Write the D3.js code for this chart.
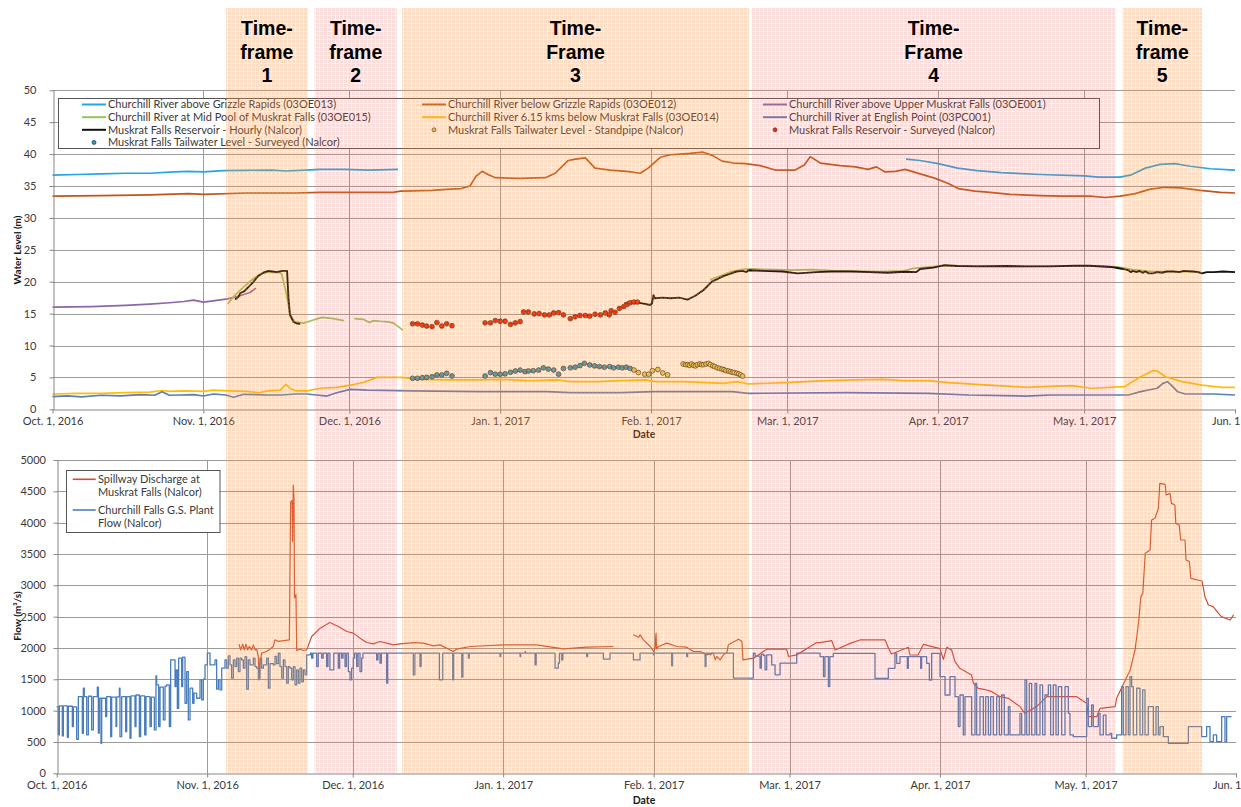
<!DOCTYPE html>
<html>
<head>
<meta charset="utf-8">
<title>Churchill River water levels and flows, October 2016 to June 2017</title>
<script src="https://cdn.jsdelivr.net/npm/d3@7/dist/d3.min.js"></script>
<style>
  html, body { margin: 0; padding: 0; background: #fff; }
  svg { display: block; }
  text { font-family: Lato, "Open Sans", Arial, sans-serif; }
</style>
</head>
<body>
<svg id="chart" width="1241" height="807"></svg>
<script>
// ---------- time base: every series position is a day count from Oct. 1, 2016 ----------
const DAY = 864e5;
const T0 = Date.UTC(2016, 9, 1);
const T1 = Date.UTC(2017, 5, 1);
const at = d => new Date(T0 + d * DAY);

const monthDates = [
  Date.UTC(2016, 9, 1), Date.UTC(2016, 10, 1), Date.UTC(2016, 11, 1), Date.UTC(2017, 0, 1),
  Date.UTC(2017, 1, 1), Date.UTC(2017, 2, 1), Date.UTC(2017, 3, 1), Date.UTC(2017, 4, 1), Date.UTC(2017, 5, 1)
].map(t => new Date(t));
const monthLabels = ["Oct. 1, 2016", "Nov. 1, 2016", "Dec. 1, 2016", "Jan. 1, 2017", "Feb. 1, 2017",
  "Mar. 1, 2017", "Apr. 1, 2017", "May. 1, 2017", "Jun. 1"];
const levelTicks = [0, 5, 10, 15, 20, 25, 30, 35, 40, 45, 50];
const flowTicks = [0, 500, 1000, 1500, 2000, 2500, 3000, 3500, 4000, 4500, 5000];

// ---------- operating time-frames ----------
const frameStart = [35.63, 53.84, 71.8, 143.74, 219.9];
const frameEnd = [52.49, 70.78, 143.14, 218.4, 236.2];
const frameWord = ["frame", "frame", "Frame", "Frame", "frame"];
const frameNumber = ["1", "2", "3", "4", "5"];
const frameTone = ["orange", "pink", "orange", "pink", "orange"];

// ---------- water levels (m) : [day, level]; null marks a gap in the record ----------
const aboveGrizzle = [[0,36.7],[5,36.8],[10,36.9],[15,37.0],[20,37.0],[25,37.2],[28,37.3],[31,37.2],[35,37.4],[40,37.45],[45,37.5],[48,37.35],[52,37.5],[55,37.6],[60,37.6],[65,37.5],[71,37.6],[72,null],
  [175.4,39.2],[178.3,39.0],[182,38.5],[186,37.8],[190,37.4],[195,37.1],[203,36.8],[212,36.6],[215,36.4],[219.4,36.4],[221.5,36.7],[224.6,37.8],[227.6,38.4],[230.7,38.5],[233.8,38.1],[237.9,37.7],[243,37.5]];

const belowGrizzle = [[0,33.4],[10,33.5],[20,33.6],[28,33.8],[31,33.7],[40,33.9],[50,33.9],[55,34.0],[65,34.0],[70,34.0],[71.5,34.2],[78,34.3],[81.7,34.5],[84,34.6],[85.8,35.0],[87,36.5],[88.3,37.3],[89.5,36.8],[91,36.3],[96,36.2],[101.3,36.3],[103.3,37.0],[106,39.0],[107.5,39.2],[109.5,39.4],[111.5,37.8],[114.6,37.5],[118,37.3],[120.8,37.0],[122.4,37.8],[124.9,39.5],[127,39.9],[129,40.0],[131,40.1],[133.7,40.3],[135.6,39.8],[137.6,38.9],[140,38.6],[142.4,38.5],[145.4,38.2],[148.5,37.5],[152.6,37.5],[154.5,38.3],[155.7,39.6],[157.8,38.6],[161.9,38.2],[165,38.0],[167.6,37.6],[169.3,38.0],[171.1,37.2],[173.2,37.3],[175.2,37.6],[178.3,36.9],[181.4,36.2],[184.1,35.4],[186.1,34.6],[189.6,34.2],[192.7,34.0],[196.8,33.7],[203,33.5],[207.1,33.4],[213.3,33.4],[216.3,33.2],[219.4,33.4],[222.5,33.8],[225.6,34.5],[228.7,34.8],[231.8,34.7],[235.9,34.3],[240,34.0],[243,33.9]];

const upperMuskrat = [[0,16.0],[8,16.1],[15,16.3],[20,16.5],[24,16.7],[27,16.9],[29,17.1],[31,16.8],[33,17.0],[36,17.3],[38.5,17.8],[40.6,18.3],[41.8,19.0]];

const midPool = [[36.0,16.5],[37.5,17.9],[39.3,19.2],[41.3,20.5],[42.7,21.2],[44.1,21.5],[46.8,21.4],[47.1,21.2],[48.2,17.6],[48.8,14.8],[49.9,13.7],[51.6,13.5],[53.6,14.0],[55.4,14.4],[57.7,14.2],[59.9,13.9],[61,null],
  [62.0,14.2],[63.9,14.1],[65.1,13.6],[66.0,13.9],[67.3,13.8],[69.0,13.7],[70.1,13.5],[72.0,12.4],[73,null],
  [135.1,20.3],[137.6,21.0],[139.5,21.6],[141.8,21.95],[144,22.0],[148,21.9],[152,21.8],[156,21.9],[160,21.75],[165,21.65],[170,21.6],[175,21.7],[177,22.1],[182,22.45],[190,22.45],[200,22.4],[210,22.5],[216,22.4],[219,22.3],[222,21.9],[226,21.6],[230,21.6],[236,21.5]];

const reservoirHourly = [[37.5,17.2],[38.2,17.6],[38.6,18.2],[39.4,18.5],[40.3,19.2],[41.2,19.9],[42.3,20.9],[43.3,21.4],[44.4,21.7],[45.2,21.6],[46.1,21.5],[47.2,21.7],[48.2,21.7],[48.5,17.4],[48.8,14.8],[49.5,13.7],[50.2,13.45],[50.9,13.4],[51,null],
  [117.5,16.6],[119.2,16.9],[121.2,16.6],[122.8,16.35],[123.2,16.6],[123.5,17.9],[123.8,17.4],[125.4,17.5],[127,17.4],[128.8,17.5],[130.5,17.2],[132.1,17.8],[133.8,18.7],[135.5,20.0],[138,20.9],[140.6,21.6],[141.8,21.7],[142.6,21.5],[143,21.8],[146,21.7],[150,21.6],[153.1,21.3],[157,21.5],[160,21.6],[164,21.6],[168,21.5],[171.6,21.4],[175,21.55],[177.5,21.5],[178.3,22.0],[181,22.2],[183.3,22.6],[186,22.45],[190,22.4],[196,22.45],[200,22.4],[205,22.4],[210,22.5],[213,22.5],[217.7,22.3],[220,22.0],[221.1,21.8],[221.6,21.5],[222,21.7],[222.8,21.5],[223.3,21.7],[224,21.4],[224.6,21.6],[225.3,21.3],[226.1,21.3],[227,21.5],[228,21.4],[229,21.6],[230.3,21.6],[231.5,21.5],[232.5,21.7],[234.5,21.6],[235.4,21.5],[236.2,21.3],[237.2,21.5],[238.7,21.5],[240.5,21.6],[243,21.5]];

const belowMuskrat = [[0,2.4],[5,2.5],[10,2.5],[15,2.6],[20,2.7],[22.5,2.95],[24,2.8],[27,2.9],[31,2.8],[33,3.0],[36,2.9],[40,2.8],[42.3,2.6],[44.3,2.9],[46.8,3.0],[48,3.9],[48.8,3.3],[49.9,2.9],[52.3,2.9],[55,3.3],[58.4,3.45],[61.2,3.8],[63.9,4.2],[66.7,5.0],[71.5,5.0],[75.6,4.7],[81.1,4.6],[87.9,4.6],[92,4.7],[98.2,4.5],[103.7,4.6],[106.4,4.35],[111.9,4.35],[116.7,4.5],[121.9,4.6],[123.8,4.35],[129.6,4.35],[138,4.07],[140.6,4.33],[143,3.97],[150.6,4.17],[159,4.5],[164.9,4.6],[170.7,4.7],[174.9,4.5],[180,4.5],[184.1,4.17],[192.5,3.8],[200.1,3.45],[203.5,3.55],[209.4,3.7],[213.5,3.3],[220.3,3.55],[223.6,5.1],[226.1,6.05],[227,6.0],[228.7,5.1],[232.1,4.33],[236.2,3.8],[240.4,3.45],[243,3.45]];

const englishPoint = [[0,2.0],[3,2.1],[6,1.95],[10,2.2],[14,2.1],[18,2.3],[21,2.2],[22.5,2.75],[24,2.2],[26.2,2.24],[29,2.3],[31,2.08],[33.1,2.4],[35.6,2.24],[37.2,1.88],[39.3,2.35],[44.1,2.24],[46.8,2.24],[50.2,2.4],[52.3,2.4],[54.3,2.24],[56.4,2.08],[58.4,2.6],[61.2,3.13],[64.6,3.0],[74.2,2.9],[87.9,2.76],[101.6,2.76],[106.4,2.6],[116.7,2.6],[123.8,2.76],[139.7,2.76],[143,2.5],[163.2,2.6],[180,2.5],[188.3,2.24],[200.1,2.08],[205.1,2.24],[213.5,2.24],[221.1,2.24],[223.6,2.76],[227,3.3],[228.2,4.07],[229.1,4.33],[229.9,3.8],[231.2,2.76],[232.8,2.4],[238.7,2.4],[243,2.24]];

const reservoirSurveyed = [[74.0,13.4],[75.0,13.4],[76.0,13.2],[76.9,13.05],[78.0,12.95],[79.0,13.6],[80.0,13.05],[81.0,13.4],[82.1,13.1],
  [88.9,13.55],[90.0,13.55],[91.0,13.9],[92.0,13.8],[93.0,13.8],[94.1,13.3],[95.1,13.55],[96.1,13.75],
  [96.8,15.25],[97.8,15.25],[99.0,14.95],[100.0,15.0],[101.1,14.8],[102.1,14.8],[103.0,15.1],[104.0,15.15],[105.0,14.8],[106.4,14.2],[107.4,14.5],[108.4,14.7],[109.5,14.7],[110.4,14.6],[111.5,14.9],[112.6,14.8],[113.6,15.1],[114.4,14.8],[114.8,15.45],[115.6,15.2],[116.5,15.8],[117.4,16.1],[118.1,16.45],[118.7,16.7],[119.5,16.8],[120.2,16.8]];

const tailwaterSurveyed = [[74.0,4.86],[75.0,4.86],[76.0,4.95],[76.9,5.0],[78.0,5.1],[79.0,5.38],[80.0,5.38],[81.0,5.64],[82.1,5.22],
  [88.9,5.22],[90.0,5.74],[91.0,5.5],[92.0,5.5],[93.0,5.55],[94.1,5.8],[95.1,6.0],[96.1,6.15],[97.1,5.9],[97.8,6.0],[98.8,6.05],[99.9,6.15],[100.9,6.5],[101.9,6.3],[103.0,6.15],[104.0,5.5],[105.0,6.4],[106.4,6.5],[107.4,6.6],[108.4,6.85],[109.3,7.2],[110.4,6.95],[111.4,6.8],[112.4,6.7],[113.4,6.6],[114.5,6.7],[115.3,6.5],[116.3,6.6],[117.1,6.5],[117.9,6.6],[118.7,6.4]];

const tailwaterStandpipe = [[119.5,6.15],[120.4,5.75],[121.7,5.5],[122.5,5.5],[123.3,6.05],[124.4,6.25],[125.4,5.7],[126.4,5.4],
  [129.6,7.1],[130.1,7.0],[130.5,7.0],[130.9,6.9],[131.3,7.1],[131.7,6.9],[132.1,6.8],[132.5,7.0],[133.0,7.1],[133.4,7.0],[133.8,7.0],[134.3,7.1],[134.8,7.2],[135.2,7.0],[135.7,6.8],[136.1,6.7],[136.6,6.5],[137.1,6.4],[137.6,6.3],[138.0,6.2],[138.4,6.05],[138.9,6.0],[139.3,5.9],[139.7,5.8],[140.1,5.75],[140.6,5.65],[141.0,5.55],[141.4,5.4],[141.8,5.2]];

// ---------- flows (m³/s) : [day, flow] ----------
const plantFlow = [[0,1065],[0.34,612],[0.54,1075],[1.16,596],[1.37,1075],[2.19,575],[2.4,1070],[3.22,745],[3.43,1060],[4.11,543],[4.46,1225],[5.28,639],[5.49,1358],[5.69,1225],[6.18,612],[6.52,1230],[7.2,692],[7.55,1225],[8.37,1374],[8.58,640],[8.78,1200],[9.13,479],[9.27,1198],[10.09,905],[10.3,1225],[11.12,585],[11.33,1215],[12.22,745],[12.36,1220],[12.91,1358],[13.04,585],[13.39,1225],[14.21,665],[14.42,1225],[15.1,559],[15.31,1235],[16.13,745],[16.34,1250],[17.03,585],[17.3,1235],[18.13,612],[18.4,1225],[19.22,745],[19.5,1215],[20.12,692],[20.46,1555],[20.6,1411],[21.01,745],[21.29,1374],[21.97,852],[22.32,1390],[22.66,1411],[23.21,745],[23.48,1810],[24.38,1385],[24.58,1650],[24.86,1038],[25.13,1837],[25.75,1385],[25.96,1853],[26.44,1118],[26.78,1624],[27.12,852],[27.47,1358],[28.02,1118],[28.29,1278],[28.84,1198],[29.53,1491],[29.87,1171],[30.21,1501],[30.56,1730],[31.04,1917],[31.59,1730],[32.62,1810],[32.96,1342],[33.31,1491],[33.65,1331],[34.0,1677],[34.68,1810],[35.02,1677],[35.37,1874],[35.71,1730],[36.05,1518],[36.4,1810],[36.74,1704],[37.08,1837],[37.43,1624],[37.77,1837],[38.11,1810],[38.46,1677],[38.8,1860],[39.14,1342],[39.49,1810],[39.83,1730],[40.52,1837],[40.86,1704],[41.2,1677],[41.55,1518],[41.89,1837],[42.23,1677],[42.58,1730],[43.26,1837],[43.61,1358],[43.95,1750],[44.64,1730],[44.98,1864],[45.32,1750],[45.67,1917],[46.01,1704],[46.36,1518],[46.7,1810],[47.04,1704],[47.39,1438],[47.73,1704],[48.07,1677],[48.42,1491],[48.76,1704],[49.1,1411],[49.45,1650],[49.79,1438],[50.13,1677],[50.48,1460],[50.82,1650],[51.16,1571],[51.51,1890],
  [52.3,1917],[52.54,1837],[52.8,1917],[53.57,1704],[53.9,1917],[54.6,1837],[54.9,1917],[55.63,1704],[55.9,1917],[56.3,1650],[57.1,1917],[58.03,1677],[58.3,1917],[58.72,1837],[59.0,1917],[59.41,1704],[59.7,1917],[60.09,1624],[60.44,1491],[60.78,1677],[61.12,1837],[61.4,1917],[61.81,1704],[62.1,1917],[62.5,1624],[62.84,1837],[63.1,1917],[65.93,1810],[66.2,1917],[66.62,1757],[66.9,1917],[67.99,1438],[68.2,1917],[73.49,1571],[73.8,1917],[74.86,1704],[75.1,1917],
  [78.85,1491],[79.54,1917],[81.6,1491],[81.8,1917],[83.46,1534],[83.7,1917],[84.83,1837],[85.0,1917],[91.35,1864],[91.5,1917],[95.48,1864],[95.6,1917],[96.5,1940],[96.6,1917],[98.57,1730],[98.8,1917],[102.69,1677],[103.37,1760],[103.6,1917],[104.06,1810],[104.3,1917],[109.21,1864],[109.4,1917],[112.65,1821],[114.02,1917],[118.83,1810],[120.2,1917],[122.95,1890],[123.1,1917],[126.73,1715],[126.9,1917],[129.82,1864],[130.0,1917],[133.6,1704],[133.8,1917],[134.63,1890],[134.8,1917],[139.09,1917],[139.44,1518],[143.55,1917],[143.9,1870],[144.93,1677],[145.2,1900],[145.62,1880],[145.96,1650],[146.3,1890],[147.33,1730],[148.02,1571],[148.71,1571],[149.05,1757],[152.14,1757],[152.48,1917],[157.3,1862],[158.0,1543],[158.3,1862],[159.01,1383],[159.3,1862],
  [160.03,1915],[168.27,1915],[168.61,1516],[171.36,1675],[172.05,1675],[172.73,1915],[173.08,1755],[173.76,1862],[175.28,1675],[175.48,1862],[178.02,1675],[178.23,1862],[179.26,1755],[179.81,1489],[180.29,1915],[182.01,1543],[183.04,1250],[184.07,1543],[185.1,1223],[185.78,745],[186.13,1250],[186.81,612],[187.16,1223],[188.53,612],[189.22,1436],[189.56,612],[190.25,1223],[190.94,612],[191.42,1223],[191.97,612],[192.45,1223],[193.0,612],[193.68,1223],[194.23,612],[194.71,1250],[195.26,612],[196.09,1064],[196.43,612],[198.49,957],[198.84,612],[199.52,1489],[199.87,612],[200.41,1436],[200.9,612],[201.58,1436],[201.93,612],[202.61,1410],[203.16,612],[203.64,1250],[204.33,1410],[204.81,612],[205.36,1410],[205.91,612],[206.39,1383],[207.08,612],[207.76,1383],[208.45,957],[208.79,612],[209.48,585],[212.23,1197],[212.57,745],[213.26,1090],[213.6,745],[214.63,957],[214.98,612],[215.66,930],[216.21,612],[217.04,638],[217.38,559],[218.41,612],[219.44,1383],[219.78,612],[220.33,1383],[220.81,612],[221.16,1543],[221.5,1383],[221.84,612],[222.53,1357],[223.22,612],[223.77,1330],[224.25,612],[224.93,1064],[225.97,612],[226.52,1064],[227.0,612],[227.34,745],[228.03,585],[229.06,479],[233.18,745],[235.92,585],[236.95,745],[237.64,505],[238.33,612],[239.01,505],[240.04,904],[240.73,505],[241.07,904],[242.1,904]];

const spillway = [[37.56,2061],[37.91,1970],[38.32,2061],[38.66,1970],[39.0,2061],[39.35,1970],[39.69,2024],[40.17,1970],[40.52,2050],[40.86,1970],[41.2,1980],[41.55,1864],[41.69,1491],[41.89,1757],[42.23,1917],[43.26,1944],[44.64,2024],[44.98,2130],[45.67,2104],[47.94,2130],[48.2,4330],[48.5,4350],[48.6,3700],[48.75,4600],[48.9,4380],[49.0,2800],[49.3,2850],[49.45,1960],[50.13,1980],[50.82,1960],[51.51,1970],[52.54,2183],[54.28,2316],[56.3,2407],[58.03,2343],[59.78,2263],[61.12,2237],[62.5,2157],[63.87,2087],[65.24,2066],[66.62,2104],[67.99,2077],[69.37,2050],[70.74,2066],[73.49,2087],[75.55,2077],[77.6,2034],[79.0,2050],[81.7,1944],[82.4,1981],[85.2,2024],[92.0,2050],[98.9,2050],[104.4,1986],[109.2,2013],[114.7,2024],[115,null],
  [118.8,2210],[119.9,2170],[120.2,2210],[120.9,2130],[122.3,2024],[123.0,1944],[123.3,2000],[123.5,2237],[123.6,1990],[124.0,2024],[125.7,2077],[127.8,2024],[129.8,2013],[131.2,1944],[132.6,1944],[133.9,1890],[135.3,1917],[135.7,1810],[136.0,1864],[136.7,1810],[137.4,1890],[138.1,1930],[138.4,2050],[140.5,2140],[141.2,2104],[141.4,1810],[143.6,1837],[146.3,1981],[150.4,1981],[150.8,1864],[152.5,1890],[156.6,2087],[157.3,2085],[159.7,2117],[160.4,1968],[163.5,2074],[165.5,2128],[170.7,2128],[171.4,1995],[172.0,1904],[175.5,2011],[175.8,1888],[177.5,1888],[178.6,2058],[182.0,1989],[182.7,1819],[183.4,2011],[184.4,1968],[185.1,1782],[186.1,1675],[188.5,1569],[188.9,1436],[189.9,1356],[191.6,1330],[192.7,1303],[194.4,1223],[196.1,1197],[198.5,1064],[199.5,957],[201.9,1064],[202.6,1117],[204.0,1223],[210.2,1223],[212.2,1117],[212.6,904],[214.3,904],[215.0,1037],[218.1,1064],[218.4,1197],[221.2,1649],[222.2,1968],[222.9,2394],[223.4,2819],[223.8,2872],[224.3,3511],[225.3,3564],[225.6,4042],[226.3,4069],[227.0,4229],[227.3,4628],[228.4,4612],[228.6,4441],[229.4,4468],[229.7,4308],[230.4,4282],[230.6,3989],[231.3,3963],[231.6,3723],[232.5,3723],[232.7,3404],[233.4,3378],[233.7,3112],[236.0,3069],[236.6,2819],[237.3,2686],[238.3,2660],[239.4,2553],[240.0,2500],[241.8,2447],[242.5,2527]];

// ---------- legend labels ----------
const levelLegendLabels = [
  "Churchill River above Grizzle Rapids (03OE013)",
  "Churchill River below Grizzle Rapids (03OE012)",
  "Churchill River above Upper Muskrat Falls (03OE001)",
  "Churchill River at Mid Pool of Muskrat Falls (03OE015)",
  "Churchill River 6.15 kms below Muskrat Falls (03OE014)",
  "Churchill River at English Point (03PC001)",
  "Muskrat Falls Reservoir - Hourly (Nalcor)",
  "Muskrat Falls Tailwater Level - Standpipe (Nalcor)",
  "Muskrat Falls Reservoir - Surveyed (Nalcor)",
  "Muskrat Falls Tailwater Level - Surveyed (Nalcor)"
];
const flowLegendLabels = [["Spillway Discharge at", "Muskrat Falls (Nalcor)"], ["Churchill Falls G.S. Plant", "Flow (Nalcor)"]];

// ---------- styling ----------
const C = {
  aboveGrizzle: "#22a6e4", belowGrizzle: "#c0561a", upperMuskrat: "#8a67ab", midPool: "#98c45a",
  belowMuskrat: "#ffbf00", englishPoint: "#5b7db8", reservoir: "#111111",
  resDot: "#ff1200", twDot: "#1d9fd6", spDot: "#dccf55",
  spill: "#d24b33", plant: "#4a7ebb",
  grid: "#9b9b9b", axis: "#868686", text: "#3a3a3a"
};

const svg = d3.select("#chart");
const defs = svg.append("defs");

// fine-grid tint used for the time-frame bands
function bandPattern(id, color, aLine, aCell) {
  const p = defs.append("pattern").attr("id", id).attr("patternUnits", "userSpaceOnUse")
    .attr("width", 4).attr("height", 4);
  p.append("rect").attr("width", 4).attr("height", 4).attr("fill", color).attr("fill-opacity", aLine);
  p.append("rect").attr("width", 3).attr("height", 3).attr("fill", color).attr("fill-opacity", aCell);
}
bandPattern("tf-orange", "#f79646", 0.16, 0.19);
bandPattern("tf-pink", "#ef6f63", 0.1, 0.14);

// ---------- scales ----------
const xTop = d3.scaleUtc().domain([new Date(T0), new Date(T1)]).range([52.5, 1235]);
const yTop = d3.scaleLinear().domain([0, 50]).range([409.3, 90.3]);
const xBot = d3.scaleUtc().domain([new Date(T0), new Date(T1)]).range([56.7, 1236]);
const yBot = d3.scaleLinear().domain([0, 5000]).range([773.3, 460]);

function drawGrid(x, y, ticks) {
  const g = svg.append("g").attr("stroke", C.grid).attr("stroke-width", 1);
  const [x0, x1] = x.range();
  ticks.slice(1).forEach(v => {
    g.append("line").attr("x1", x0).attr("x2", x1).attr("y1", Math.round(y(v)) + 0.5).attr("y2", Math.round(y(v)) + 0.5);
  });
  monthDates.slice(1, -1).forEach(d => {
    g.append("line").attr("x1", Math.round(x(d)) + 0.5).attr("x2", Math.round(x(d)) + 0.5)
      .attr("y1", y.range()[1]).attr("y2", y.range()[0]);
  });
}

function drawAxes(x, y, ticks, fmt, yPad, dateY) {
  const ax = svg.append("g");
  const yAxis = d3.axisLeft(y).tickValues(ticks).tickFormat(fmt).tickSize(4).tickSizeOuter(0).tickPadding(yPad);
  const gy = ax.append("g").attr("transform", `translate(${Math.round(x.range()[0]) + 0.5},0)`).call(yAxis);
  const xAxis = d3.axisBottom(x).tickValues(monthDates).tickFormat((d, i) => monthLabels[i]).tickSize(4).tickSizeOuter(0).tickPadding(3.5);
  const gx = ax.append("g").attr("transform", `translate(0,${Math.round(y.range()[0]) + 0.5})`).call(xAxis);
  [gy, gx].forEach(g => {
    g.select(".domain").attr("stroke", C.axis);
    g.selectAll(".tick line").attr("stroke", C.axis);
    g.selectAll(".tick text").attr("fill", C.text).style("font-family", "Lato, sans-serif").style("font-size", "11px");
  });
  // the last month label sits against the right edge of the page
  gx.selectAll(".tick text").filter((d, i) => i === monthDates.length - 1)
    .attr("text-anchor", "end").attr("dx", 5);
  ax.append("text").attr("x", 644).attr("y", dateY).attr("text-anchor", "middle")
    .style("font-size", "10.5px").style("font-weight", "bold").attr("fill", "#1a1a1a").text("Date");
}

const lineOf = (x, y, curve) => d3.line().defined(p => p[1] !== null)
  .x(p => x(at(p[0]))).y(p => y(p[1])).curve(curve || d3.curveLinear);

// ================= upper panel: water levels =================
drawGrid(xTop, yTop, levelTicks);

// legend frame (white fill hides the grid underneath)
svg.append("rect").attr("x", 58.5).attr("y", 98.5).attr("width", 1041).attr("height", 50)
  .attr("fill", "#fff").attr("stroke", "#555").attr("stroke-width", 1);

const gl = svg.append("g").attr("fill", "none").attr("stroke-linejoin", "round");
gl.append("path").datum(aboveGrizzle).attr("d", lineOf(xTop, yTop)).attr("stroke", C.aboveGrizzle).attr("stroke-width", 1.7);
gl.append("path").datum(belowGrizzle).attr("d", lineOf(xTop, yTop)).attr("stroke", C.belowGrizzle).attr("stroke-width", 1.7);
gl.append("path").datum(upperMuskrat).attr("d", lineOf(xTop, yTop)).attr("stroke", C.upperMuskrat).attr("stroke-width", 1.7);
gl.append("path").datum(belowMuskrat).attr("d", lineOf(xTop, yTop)).attr("stroke", C.belowMuskrat).attr("stroke-width", 1.7);
gl.append("path").datum(englishPoint).attr("d", lineOf(xTop, yTop)).attr("stroke", C.englishPoint).attr("stroke-width", 1.7);
gl.append("path").datum(midPool).attr("d", lineOf(xTop, yTop)).attr("stroke", C.midPool).attr("stroke-width", 1.7);
gl.append("path").datum(reservoirHourly).attr("d", lineOf(xTop, yTop)).attr("stroke", C.reservoir).attr("stroke-width", 1.9);

function dots(data, fill) {
  svg.append("g").selectAll("circle").data(data).join("circle")
    .attr("cx", p => xTop(at(p[0]))).attr("cy", p => yTop(p[1])).attr("r", 2.4)
    .attr("fill", fill).attr("stroke", "#3a2a1a").attr("stroke-width", 0.7);
}
dots(reservoirSurveyed, C.resDot);
dots(tailwaterSurveyed, C.twDot);
dots(tailwaterStandpipe, C.spDot);

drawAxes(xTop, yTop, levelTicks, d3.format("d"), 13, 438);
svg.append("text").attr("transform", "translate(21,250) rotate(-90)").attr("text-anchor", "middle")
  .style("font-size", "10px").style("font-weight", "bold").attr("fill", "#1a1a1a").text("Water Level (m)");

// legend entries: three columns, four rows
const legCols = [82, 422, 763];
const legRows = [104.5, 117.2, 129.8, 142.4];
const legKind = [
  ["line", C.aboveGrizzle], ["line", C.belowGrizzle], ["line", C.upperMuskrat],
  ["line", C.midPool], ["line", C.belowMuskrat], ["line", C.englishPoint],
  ["line", C.reservoir], ["dot", C.spDot], ["dot", C.resDot],
  ["dot", C.twDot]
];
const lg = svg.append("g");
levelLegendLabels.forEach((label, i) => {
  const cx = legCols[i % 3], cy = legRows[Math.floor(i / 3)];
  const [kind, col] = legKind[i];
  if (kind === "line") {
    lg.append("line").attr("x1", cx).attr("x2", cx + 24).attr("y1", cy).attr("y2", cy)
      .attr("stroke", col).attr("stroke-width", 2);
  } else {
    lg.append("circle").attr("cx", cx + 12).attr("cy", cy).attr("r", 2)
      .attr("fill", col).attr("stroke", "#3a2a1a").attr("stroke-width", 0.7);
  }
  lg.append("text").attr("x", cx + 26).attr("y", cy + 3.8).attr("fill", C.text)
    .style("font-size", "11px").text(label);
});

// ================= lower panel: flows =================
drawGrid(xBot, yBot, flowTicks);
svg.append("rect").attr("x", 66.5).attr("y", 470.5).attr("width", 153.5).attr("height", 62)
  .attr("fill", "#fff").attr("stroke", "#555").attr("stroke-width", 1);

const gf = svg.append("g").attr("fill", "none").attr("stroke-linejoin", "round");
gf.append("path").datum(spillway).attr("d", lineOf(xBot, yBot)).attr("stroke", C.spill).attr("stroke-width", 1.2);
gf.append("path").datum(plantFlow).attr("d", lineOf(xBot, yBot, d3.curveStepAfter)).attr("stroke", C.plant).attr("stroke-width", 1.3);

drawAxes(xBot, yBot, flowTicks, d3.format("d"), 7.5, 804);
svg.append("text").attr("transform", "translate(21,616) rotate(-90)").attr("text-anchor", "middle")
  .style("font-size", "10px").style("font-weight", "bold").attr("fill", "#1a1a1a").text("Flow (m³/s)");

const flowLegendColors = [C.spill, C.plant];
const flowLegendY = [479.3, 510];
const fl = svg.append("g");
flowLegendLabels.forEach((lines, i) => {
  const y = flowLegendY[i];
  fl.append("line").attr("x1", 72.7).attr("x2", 95.7).attr("y1", y).attr("y2", y)
    .attr("stroke", flowLegendColors[i]).attr("stroke-width", 1.6);
  lines.forEach((t, j) => {
    fl.append("text").attr("x", 98).attr("y", y + 4 + j * 12.8).attr("fill", C.text)
      .style("font-size", "11px").text(t);
  });
});

// ================= time-frame bands over both panels =================
const bands = svg.append("g");
frameStart.forEach((s, i) => {
  const x0 = xTop(at(s)), x1 = xTop(at(frameEnd[i]));
  bands.append("rect").attr("x", x0).attr("y", 8).attr("width", x1 - x0).attr("height", 773 - 8)
    .attr("fill", `url(#tf-${frameTone[i]})`);
});
frameStart.forEach((s, i) => {
  const cx = (xTop(at(s)) + xTop(at(frameEnd[i]))) / 2;
  const t = bands.append("text").attr("text-anchor", "middle").attr("fill", "#000")
    .style("font-family", "'Liberation Sans', Arial, sans-serif").style("font-weight", "bold").style("font-size", "19.5px");
  ["Time-", frameWord[i], frameNumber[i]].forEach((w, j) => {
    t.append("tspan").attr("x", cx).attr("y", 35 + j * 23.5).text(w);
  });
});
</script>
</body>
</html>
